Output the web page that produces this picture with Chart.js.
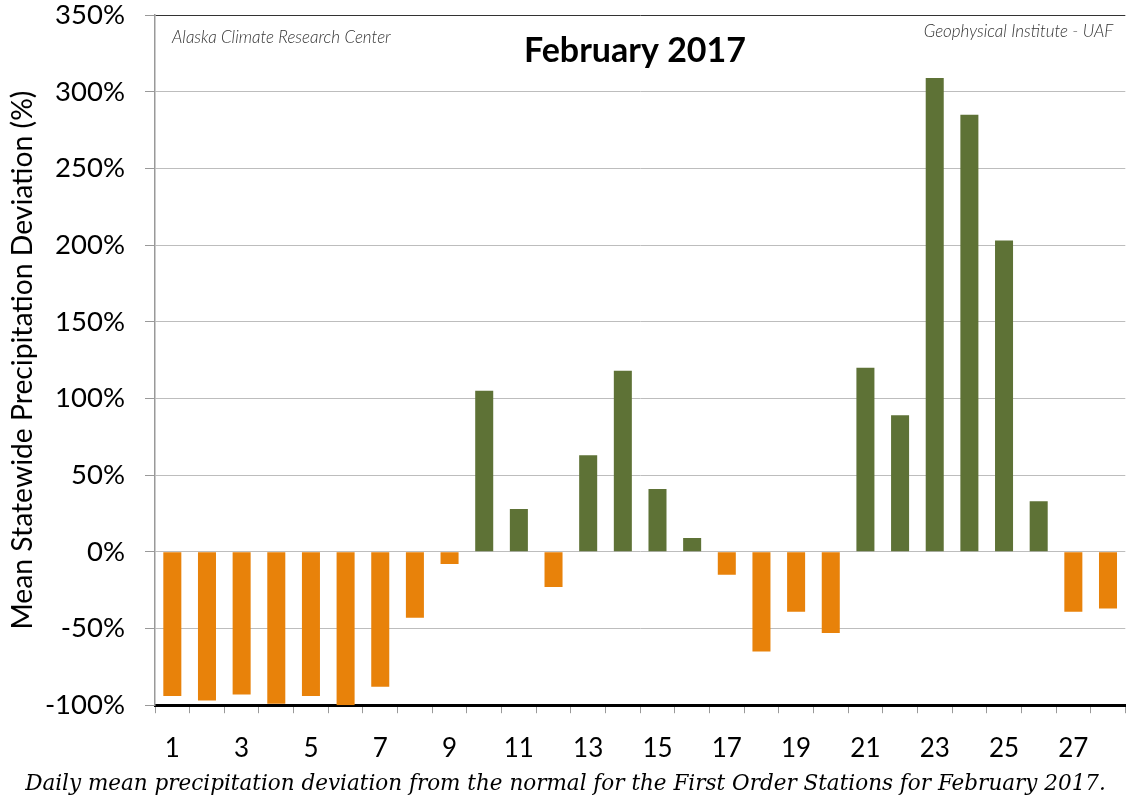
<!DOCTYPE html>
<html>
<head>
<meta charset="utf-8">
<script src="https://cdn.jsdelivr.net/npm/chart.js@4.4.0/dist/chart.umd.min.js"></script>
<style>
	html, body { margin: 0; padding: 0; background: #fff; }
	#wrap { width: 1128px; height: 801px; }
</style>
</head>
<body>
<div id="wrap"><canvas id="chart_1" width="1128" height="801"></canvas></div>
<script>
// days of february 2017
var days = [];
for(var i = 1; i <= 28; i++)
	days.push(String(i));

// deviation from normal (%)
var deviation = [
	-94, -97, -93, -99, -94, -100, -88, -43, -8, 105,
	28, -23, 63, 118, 41, 9, -15, -65, -39, -53,
	120, 89, 309, 285, 203, 33, -39, -37];

var yTicks = { min: -100, max: 350, step: 50 };

var titleText = 'February 2017';
var leftNote = 'Alaska Climate Research Center';
var rightNote = 'Geophysical Institute - UAF';
var yTitle = 'Mean Statewide Precipitation Deviation (%)';
var caption = 'Daily mean precipitation deviation from the normal for the First Order Stations for February 2017.';

var green = '#5e7236';
var orange = '#e8820a';

// texts drawn inside the plot area
var notes = {
	id: 'notes',
	afterDraw: function(chart) {
		var c = chart.ctx, a = chart.chartArea;
		c.save();
		c.fillStyle = '#000';
		c.textBaseline = 'middle';
		c.textAlign = 'center';
		c.font = 'bold 34px Lato';
		c.fillText(titleText, 635, 51);
		c.fillStyle = '#333';
		c.font = 'italic 300 17px Lato';
		c.textAlign = 'left';
		c.fillText(leftNote, a.left + 17, 38);
		c.textAlign = 'right';
		c.fillText(rightNote, a.right - 12, 32);
		c.restore();
	}
};

var ctx_1 = document.getElementById('chart_1').getContext('2d');

var chart_1 = new Chart(ctx_1, {
	type: 'bar',
	data: {
		labels: days,
		datasets: [{
			data: deviation,
			backgroundColor: function(c) { return c.raw >= 0 ? green : orange; },
			barPercentage: 0.52,
			categoryPercentage: 1
		}]
	},
	options: {
		responsive: false,
		animation: false,
		layout: { padding: { top: 0, right: 0, left: 3, bottom: 0 } },
		plugins: {
			legend: { display: false },
			tooltip: { enabled: false },
			subtitle: {
				display: true,
				position: 'bottom',
				text: caption,
				color: '#000',
				font: { family: 'DejaVu Serif', style: 'italic', size: 21.5 },
				padding: { top: 0, bottom: 4 }
			}
		},
		scales: {
			x: {
				afterFit: function(s) { s.height = 66; },
				grid: {
					offset: true,
					drawOnChartArea: false,
					drawTicks: true,
					tickLength: 8,
					color: '#999'
				},
				border: { display: true, color: '#000', width: 3 },
				ticks: {
					autoSkip: false,
					maxRotation: 0,
					padding: 20,
					color: '#000',
					font: { family: 'Lato', size: 26 },
					callback: function(v, i) { return i % 2 == 0 ? days[i] : ''; }
				}
			},
			y: {
				min: yTicks.min,
				max: yTicks.max,
				afterFit: function(s) {
					s.width = 152;
					s.paddingTop = 15;
					s.paddingBottom = 0;
				},
				grid: {
					color: function(c) { return c.tick && c.tick.value == yTicks.max ? '#333' : '#bdbdbd'; },
					tickColor: '#999',
					tickLength: 10
				},
				border: { display: true, color: '#999', width: 1.5 },
				title: {
					display: true,
					text: yTitle,
					color: '#000',
					font: { family: 'Lato', size: 28.3 },
					padding: { top: 3, bottom: 0 }
				},
				ticks: {
					stepSize: yTicks.step,
					padding: 20,
					color: '#000',
					font: { family: 'Lato', size: 27.5 },
					callback: function(v) { return v + '%'; }
				}
			}
		}
	},
	plugins: [notes]
});
</script>
</body>
</html>
